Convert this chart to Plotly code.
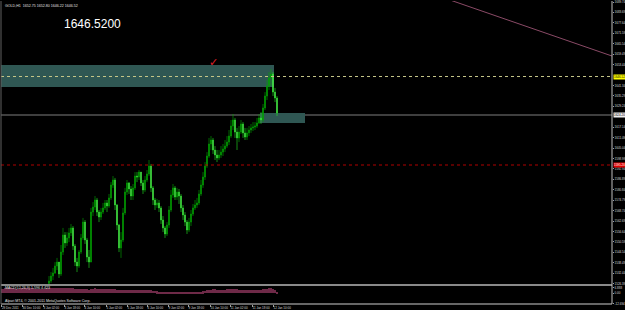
import plotly.graph_objects as go

# ---------------- data (GOLD, H1) ----------------
closes = [1527.9,1530.8,1532.6,1536.6,1538.9,1532.0,1544.7,1554.6,1550.0,1552.9,
          1555.8,1558.7,1548.2,1538.9,1536.6,1544.7,1552.9,1562.1,1551.7,1541.8,
          1538.9,1567.9,1570.8,1574.9,1567.9,1565.0,1567.9,1570.3,1573.2,1571.4,
          1576.1,1583.6,1586.5,1572.0,1560.4,1547.1,1551.7,1567.4,1579.5,1584.8,
          1581.3,1577.2,1581.9,1588.8,1588.2,1591.1,1584.8,1580.7,1586.5,1590.0,
          1594.6,1581.9,1574.9,1572.0,1573.2,1570.3,1563.3,1558.7,1555.2,1560.4,
          1569.1,1577.8,1581.9,1576.6,1579.5,1577.2,1570.3,1566.2,1562.1,1557.5,
          1562.1,1566.8,1570.3,1572.0,1573.2,1578.4,1583.6,1588.2,1594.6,1600.4,
          1607.4,1609.7,1603.9,1601.0,1599.3,1601.0,1602.7,1604.5,1606.2,1608.5,
          1612.0,1617.8,1621.3,1614.3,1610.9,1614.3,1619.0,1613.8,1611.4,1613.8,
          1615.5,1616.7,1617.2,1617.8,1619.6,1622.5,1621.3,1628.3,1635.2,1641.0,
          1645.7,1648.0,1637.5,1634.1,1625.4]
highs = [1530.8,1533.1,1535.5,1538.9,1541.3,1538.9,1548.8,1558.7,1556.3,1556.3,
         1558.7,1561.0,1559.8,1549.4,1541.3,1545.9,1555.2,1564.5,1563.3,1552.9,
         1545.9,1570.3,1573.7,1577.2,1576.1,1569.1,1570.3,1573.2,1574.9,1574.9,
         1578.4,1585.3,1588.8,1587.7,1572.6,1561.0,1556.3,1570.3,1581.9,1586.5,
         1585.3,1583.0,1584.2,1591.1,1591.1,1592.3,1591.1,1586.5,1588.8,1592.3,
         1598.1,1595.8,1583.0,1576.1,1575.5,1574.9,1571.4,1565.6,1559.8,1562.1,
         1571.4,1580.7,1584.2,1583.0,1581.9,1581.3,1578.4,1572.0,1567.9,1563.3,
         1564.5,1569.1,1572.6,1574.9,1576.1,1580.7,1586.5,1591.1,1596.9,1602.7,
         1610.9,1612.0,1610.9,1606.2,1603.9,1603.9,1606.2,1607.4,1609.7,1612.0,
         1615.5,1621.3,1624.8,1622.5,1616.7,1617.8,1621.3,1620.1,1616.7,1616.7,
         1617.8,1619.0,1620.1,1620.1,1622.5,1624.8,1625.9,1630.6,1637.5,1644.5,
         1649.1,1650.9,1649.1,1639.9,1635.2]
lows = [1525.6,1526.8,1528.5,1532.0,1534.3,1529.7,1530.8,1543.0,1547.1,1548.2,
        1550.5,1554.0,1545.9,1536.6,1533.1,1535.5,1543.6,1551.7,1549.4,1538.9,
        1535.5,1538.9,1565.6,1569.1,1565.6,1562.1,1563.3,1566.8,1569.1,1567.9,
        1570.3,1574.9,1581.9,1569.1,1557.5,1544.7,1541.3,1550.5,1566.2,1577.8,
        1578.4,1574.9,1574.9,1580.7,1585.3,1586.5,1583.0,1578.4,1579.5,1585.3,
        1588.8,1579.5,1572.0,1569.1,1570.3,1567.9,1561.0,1556.3,1552.9,1554.0,
        1558.7,1567.9,1576.1,1574.9,1574.9,1572.6,1567.9,1563.3,1559.8,1555.2,
        1556.3,1559.8,1565.6,1569.1,1570.3,1572.0,1577.2,1581.9,1586.5,1593.5,
        1599.3,1603.9,1601.6,1598.1,1596.9,1598.1,1599.3,1600.4,1602.7,1605.1,
        1606.8,1610.9,1615.5,1610.9,1603.9,1608.5,1613.2,1610.9,1609.7,1609.7,
        1612.0,1613.8,1614.9,1615.5,1616.7,1619.0,1619.0,1620.1,1627.1,1632.9,
        1638.7,1641.0,1635.2,1631.7,1623.6]
first_open = 1526.5
opens = [first_open] + closes[:-1]
bars = list(range(len(closes)))

macd_hist = [5.2,5.5,5.8,6.0,6.1,6.0,5.8,5.6,5.5,5.6,5.8,6.0,6.2,6.3,6.1,5.9,5.7,5.6,5.5,5.4,5.3,5.4,5.6,5.8,
             5.9,6.0,6.1,6.2,6.2,6.1,6.3,6.5,6.4,6.3,6.2,6.1,5.8,5.4,5.0,4.9,5.0,5.3,5.2,4.8,4.4,5.0,5.4,5.7,
             5.6,5.4,5.3,5.2,5.2,5.1,5.2,5.4,5.5,5.0,4.4,3.7,3.4,3.5,3.8,4.0,4.0,
             3.9,3.9,4.0,4.0,4.0,3.8,3.6,3.5,3.5,3.6,3.3,2.9,2.5,2.2,1.9,1.6,1.2,0.9,0.8,0.9,1.1,1.3,1.4,1.3,
             1.2,1.0,0.8,0.6,0.5,0.5,0.6,0.7,0.8,1.0,1.3,
             1.7,2.2,2.8,3.4,4.0,4.4,4.5,4.5,4.4,4.3,4.3,4.3,4.4,4.5,4.6,4.8,4.9,4.7,4.5,4.4,
             4.4,4.3,4.2,4.2,4.1,4.1,4.1,4.1,4.1,4.2,4.3,4.6,5.0,5.4,5.7,5.8,5.2,4.0,1.6]
macd_bars = list(range(-24, -24 + len(macd_hist)))

date_labels = ["29 Dec 2011", "30 Dec 10:00", "3 Jan 02:00", "3 Jan 18:00", "4 Jan 10:00",
               "5 Jan 02:00", "5 Jan 18:00", "6 Jan 10:00", "9 Jan 02:00", "9 Jan 18:00",
               "10 Jan 10:00", "11 Jan 02:00", "11 Jan 18:00", "12 Jan 10:00"]
date_pos = [-23.8, -13.5, -3, 7.5, 17.5, 28.5, 39, 49, 59.5, 69.5, 80.5, 90.5, 101.5, 112]

# price-scale labels (those hidden under the current-price boxes are omitted)
price_ticks = [1689.74, 1683.69, 1677.64, 1671.59, 1665.54, 1659.49, 1653.44,
               1641.34, 1635.29, 1629.24, 1617.14, 1611.09, 1605.04, 1598.99,
               1592.94, 1586.89, 1580.84, 1574.79, 1568.74, 1562.69, 1556.64, 1550.59,
               1544.54, 1538.49, 1532.44, 1526.39]
macd_ticks = [6.888, 0.0, -12.694]
macd_tick_text = ["6.888", "0.00", "-12.694"]

bid = 1646.52
grey_level = 1624.20
red_level = 1595.20
zone_top = (1640.4, 1653.2, 112.5)    # low, high, right edge bar
zone_small = (1619.6, 1625.4, 105.5, 128)
trend = ((200.5, 1690.9), (281.5, 1658.4))
check_pos = (82, 1654.6)

# ---------------- figure ----------------
fig = go.Figure()
fig.add_trace(go.Candlestick(
    x=bars, open=opens, high=highs, low=lows, close=closes,
    increasing=dict(line=dict(color="#00a800", width=0.6), fillcolor="#009a00"),
    decreasing=dict(line=dict(color="#22e622", width=0.6), fillcolor="#a8f8a8"),
    whiskerwidth=0, xaxis="x", yaxis="y", hoverinfo="skip"))
fig.add_trace(go.Bar(x=macd_bars, y=macd_hist, width=0.5,
                     marker=dict(color="#6e2a48", line=dict(width=0)),
                     xaxis="x", yaxis="y2", hoverinfo="skip"))

tickfont = dict(family="Arial", size=3.0, color="#d8d8d8")
main_bottom = 0.0627

fig.update_layout(
    width=625, height=310, margin=dict(l=1, r=13, t=1, b=6, autoexpand=False),
    paper_bgcolor="black", plot_bgcolor="black", showlegend=False, bargap=0,
    xaxis=dict(range=[-24, 281.5], anchor="y2", rangeslider=dict(visible=False),
               automargin=False, showgrid=False, zeroline=False, showline=False,
               tickvals=date_pos, ticktext=date_labels, ticklabelposition="outside right",
               tickangle=0, ticks="outside", ticklen=2, tickcolor="#a0a0a0",
               tickfont=dict(family="Arial", size=3.0, color="#d8d8d8")),
    yaxis=dict(domain=[main_bottom, 1], range=[1525.6, 1690.32], side="right", anchor="x",
               automargin=False, showgrid=False, zeroline=False, showline=False,
               tickvals=price_ticks, ticktext=[f"{v:.2f}" for v in price_ticks],
               ticks="outside", ticklen=1, tickcolor="#a0a0a0", tickfont=tickfont),
    yaxis2=dict(domain=[0, main_bottom], range=[-13.3, 9.95], side="right", anchor="x",
                automargin=False, showgrid=False, zeroline=False, showline=False,
                tickvals=macd_ticks, ticktext=macd_tick_text,
                ticks="outside", ticklen=1, tickcolor="#a0a0a0", tickfont=tickfont),
)

shapes = []
# zones
shapes.append(dict(type="rect", xref="x", yref="y", x0=-24, x1=zone_top[2],
                   y0=zone_top[0], y1=zone_top[1], fillcolor="#2f5753",
                   line=dict(width=0), layer="below"))
shapes.append(dict(type="rect", xref="x", yref="y", x0=zone_small[2], x1=zone_small[3],
                   y0=zone_small[0], y1=zone_small[1], fillcolor="#2f5753",
                   line=dict(width=0), layer="below"))
# horizontal levels
shapes.append(dict(type="line", xref="paper", yref="y", x0=0, x1=1, y0=grey_level, y1=grey_level,
                   line=dict(color="#555555", width=1.5), layer="below"))
shapes.append(dict(type="line", xref="paper", yref="y", x0=0, x1=1, y0=red_level, y1=red_level,
                   line=dict(color="#b00000", width=1, dash="dot")))
shapes.append(dict(type="line", xref="paper", yref="y", x0=0, x1=1, y0=bid, y1=bid,
                   line=dict(color="#c8c88a", width=1, dash="dot")))
# trend line
shapes.append(dict(type="line", xref="x", yref="y", x0=trend[0][0], y0=trend[0][1],
                   x1=trend[1][0], y1=trend[1][1], line=dict(color="#8a4a66", width=1)))
# window frame
frame = "#8a8a8a"
shapes.append(dict(type="line", xref="paper", yref="paper", x0=0, x1=1, y0=main_bottom, y1=main_bottom,
                   line=dict(color=frame, width=2)))
shapes.append(dict(type="line", xref="paper", yref="paper", x0=0, x1=1, y0=0, y1=0,
                   line=dict(color=frame, width=1.5)))
shapes.append(dict(type="line", xref="paper", yref="paper", x0=1, x1=1, y0=0, y1=1,
                   line=dict(color="#c0c0c0", width=1)))
shapes.append(dict(type="line", xref="paper", yref="paper", x0=0, x1=0, y0=0, y1=1,
                   line=dict(color="#606060", width=1)))
fig.update_layout(shapes=shapes)

small = dict(family="Arial", size=3.6, color="#e0e0e0")
ann = [
    dict(text="GOLD,H1  1652.75 1652.80 1646.22 1646.52", xref="paper", yref="paper",
         x=0.003, y=0.998, xanchor="left", yanchor="top", showarrow=False, font=small),
    dict(text="1646.5200", xref="paper", yref="paper", x=0.1498, y=0.9257,
         xanchor="center", yanchor="middle", showarrow=False,
         font=dict(family="Arial", size=12, color="white")),
    dict(text="✓", xref="x", yref="y", x=check_pos[0], y=check_pos[1],
         xanchor="center", yanchor="middle", showarrow=False,
         font=dict(family="DejaVu Sans", size=11, color="#e0202a")),
    dict(text="MACD(12,26,9) 1.596 4.423", xref="paper", yref="paper", x=0.003, y=0.0528,
         xanchor="left", yanchor="middle", showarrow=False, font=small),
    dict(text="Alpari MT4, © 2001-2011 MetaQuotes Software Corp.", xref="paper", yref="paper",
         x=0.003, y=0.0099, xanchor="left", yanchor="middle", showarrow=False, font=small),
    dict(text=f"{bid:.2f}", xref="paper", yref="y", x=1, y=bid, xanchor="left", yanchor="middle",
         xshift=0.5, showarrow=False, bgcolor="#ffff00", borderpad=0,
         font=dict(family="Arial", size=3.0, color="black")),
    dict(text=f"{grey_level:.2f}", xref="paper", yref="y", x=1, y=grey_level, xanchor="left",
         yanchor="middle", xshift=0.5, showarrow=False, bgcolor="#f0f0f0", borderpad=0,
         font=dict(family="Arial", size=3.0, color="black")),
    dict(text=f"{red_level:.2f}", xref="paper", yref="y", x=1, y=red_level, xanchor="left",
         yanchor="middle", xshift=0.5, showarrow=False, bgcolor="#e00000", borderpad=0,
         font=dict(family="Arial", size=3.0, color="white")),
]
fig.update_layout(annotations=ann)

fig.write_html("out.html")
